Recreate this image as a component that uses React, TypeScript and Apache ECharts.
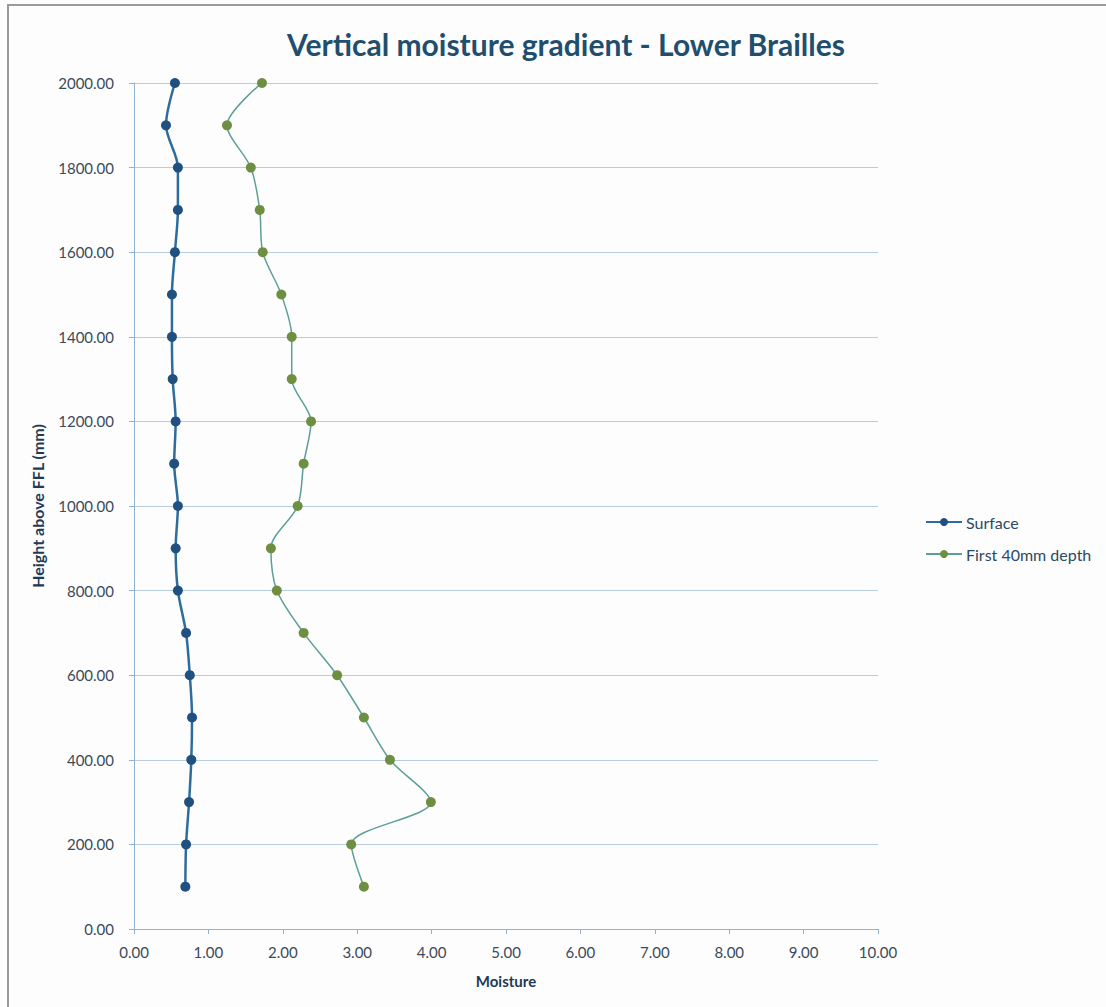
import React, { useEffect, useRef } from "react";
import * as echarts from "echarts";

const heights = [2000, 1900, 1800, 1700, 1600, 1500, 1400, 1300, 1200, 1100, 1000, 900, 800, 700, 600, 500, 400, 300, 200, 100];
const surface = [0.55, 0.43, 0.59, 0.59, 0.55, 0.51, 0.51, 0.52, 0.56, 0.54, 0.59, 0.56, 0.59, 0.70, 0.75, 0.78, 0.77, 0.74, 0.70, 0.69];
const first40 = [1.72, 1.25, 1.57, 1.69, 1.73, 1.98, 2.12, 2.12, 2.38, 2.28, 2.20, 1.84, 1.92, 2.28, 2.73, 3.09, 3.44, 3.99, 2.92, 3.09];
const seriesNames = ["Surface", "First 40mm depth"];
const titleText = "Vertical moisture gradient - Lower Brailles";
const xName = "Moisture";
const yName = "Height above FFL (mm)";

export default function App() {
  const ref = useRef<HTMLDivElement>(null);
  useEffect(() => {
    const chart = echarts.init(ref.current!, null, { renderer: "svg" });
    const font = "Lato, 'Open Sans', sans-serif";
    chart.setOption({
      animation: false,
      backgroundColor: "#fdfdfd",
      textStyle: { fontFamily: font },
      title: {
        text: titleText,
        left: 561,
        textAlign: "center",
        top: 24,
        textStyle: { fontSize: 30, fontWeight: "bold", color: "#1f4e6e", fontFamily: font },
      },
      graphic: [
        {
          type: "rect",
          shape: { x: 8, y: 5, width: 1120, height: 1020 },
          style: { fill: "none", stroke: "#9a9a9a", lineWidth: 2 },
          silent: true,
        },
      ],
      legend: {
        orient: "vertical",
        left: 920,
        top: 509,
        itemGap: 16,
        itemWidth: 36,
        itemHeight: 10,
        data: seriesNames,
        textStyle: { fontSize: 16, color: "#2a4a66", fontFamily: font, padding: [0, 0, 0, -1] },
      },
      grid: { left: 134, right: 228, top: 83, bottom: 78, containLabel: false },
      xAxis: {
        type: "value",
        min: 0,
        max: 10,
        interval: 1,
        name: xName,
        nameLocation: "middle",
        nameGap: 44,
        nameTextStyle: { fontSize: 15, fontWeight: "bold", color: "#1f3a55", fontFamily: font },
        axisLine: { show: true, lineStyle: { color: "#8fb2d0", width: 1 } },
        axisTick: { show: true, length: 5, lineStyle: { color: "#8fb2d0" } },
        axisLabel: { formatter: (v: number) => v.toFixed(2), fontSize: 15, color: "#3a4a5a", margin: 15 },
        splitLine: { show: false },
      },
      yAxis: {
        type: "value",
        min: 0,
        max: 2000,
        interval: 200,
        name: yName,
        nameLocation: "middle",
        nameGap: 89,
        nameRotate: 90,
        nameTextStyle: { fontSize: 16, fontWeight: "bold", color: "#1f3a55", fontFamily: font },
        axisLine: { show: true, lineStyle: { color: "#8fb2d0", width: 1 } },
        axisTick: { show: true, length: 5, lineStyle: { color: "#8fb2d0" } },
        axisLabel: { formatter: (v: number) => v.toFixed(2), fontSize: 15, color: "#3a4a5a", margin: 20 },
        splitLine: { show: true, lineStyle: { color: "#b8cde0", width: 1 } },
      },
      series: [
        {
          name: seriesNames[0],
          type: "line",
          data: surface.map((x, i) => [x, heights[i]]),
          smooth: 0.3,
          symbol: "circle",
          symbolSize: 10,
          lineStyle: { color: "#2e6c9c", width: 2.5 },
          itemStyle: { color: "#1f5080" },
          color: "#1f5080",
        },
        {
          name: seriesNames[1],
          type: "line",
          data: first40.map((x, i) => [x, heights[i]]),
          smooth: 0.3,
          symbol: "circle",
          symbolSize: 10,
          lineStyle: { color: "#5c9e98", width: 1.5 },
          itemStyle: { color: "#6e8f42" },
          color: "#6e8f42",
        },
      ],
    });
    return () => chart.dispose();
  }, []);
  return (
    <div
      ref={ref}
      style={{ position: "absolute", left: 0, top: 0, width: 1106, height: 1007 }}
    />
  );
}
